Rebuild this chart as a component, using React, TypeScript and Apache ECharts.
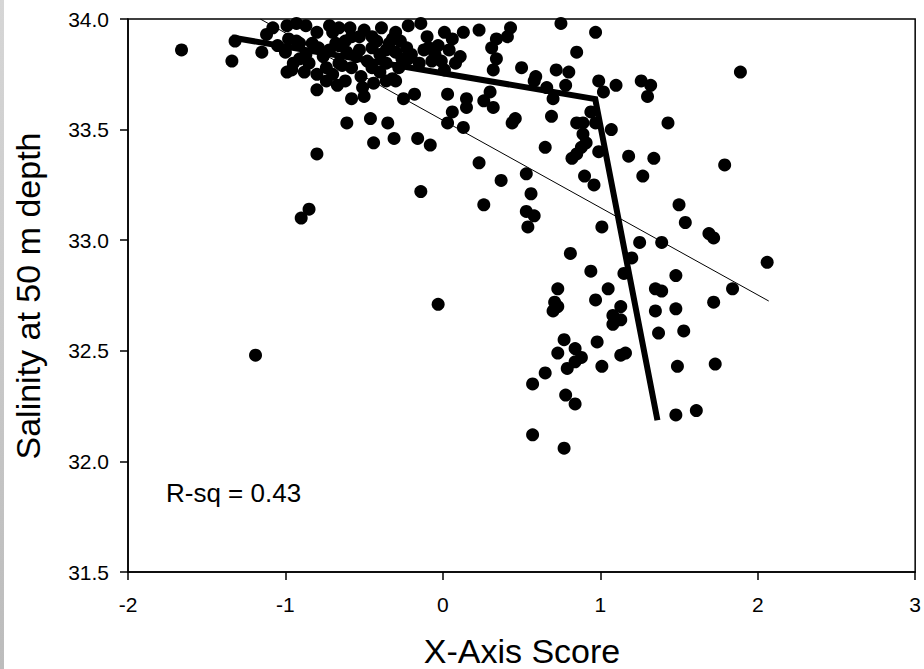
import React, { useEffect, useRef } from "react";
import * as echarts from "echarts";

// Scatter points: X-Axis Score and Salinity at 50 m depth
const pointX: number[] = [
  -1.66, -1.34, -1.32, -1.15, -1.12, -1.08, -0.99, -0.93, -0.87, -0.8, -0.72, -0.66, -0.59, -0.5, -0.39, -0.3, -0.22, -0.14, -0.1, 0.01,
  0.06, 0.13, -0.03, 0.11, -0.99, -0.96, -0.8, -0.8, -0.7, -0.67, -0.58, -0.51, -0.5, -0.44, -0.36, -0.32, -0.25, -0.18, 0.03, 0.06,
  0.03, 0.13, -0.61, -0.46, -0.35, -0.44, -0.31, -0.16, -0.08, -0.8, -0.14, -0.85, -0.9, -1.19, -0.03,
  -0.91, -0.87, -0.79, -0.68, -0.61, -0.53, -0.45, -0.36, -0.3, -0.23, -0.22, -0.15, -0.07, -0.45, -0.36, -0.28, -0.58, -0.66, -0.74, -0.85,
  -0.53, -0.45, -0.32, -0.83, -0.7, -0.58, -0.98, -0.93, -0.91, -0.66, -0.64, -0.74, -0.26, -0.09, -0.3,
  -1.05, -1.0, -0.95, -0.88, -0.76, -0.72, -0.62, -0.55, -0.48, -0.4, -0.42, -0.34, -0.27, -0.2, -0.12, -0.05, 0.04, -0.4, -0.52, -0.62, 0.08,
  0.23, 0.43, 0.41, 0.34, 0.31, 0.34, 0.32, -0.01, 0.01, 0.5, 0.59, 0.58, 0.72, 0.8, 0.78, 0.75, 0.97, 0.85, 0.66, 0.7,
  0.99, 1.02, 1.1, 1.26, 1.32, 1.3, 0.15, 0.15, 0.26, 0.3, 0.32, 0.44, 0.46, 0.69, 0.85, 0.89, 0.94, 0.97, 1.07, 0.89,
  0.91, 0.88, 0.85, 0.82, 0.65, 0.99, 1.18, 0.23, 1.89, 1.43, 1.34, 1.27, 1.79, 0.9, 0.96, 0.53, 0.37, 0.56, 0.26, 0.53,
  0.58, 0.54, 1.5, 1.54, 1.69, 1.72, 1.01, 1.25, 1.39, 1.2, 2.06, 0.81, 0.94, 1.15, 1.48, 1.84, 1.72, 0.73, 0.71, 0.73,
  0.7, 1.05, 0.97, 1.13, 1.08, 1.13, 1.08, 1.35, 1.39, 1.35, 1.48, 1.37, 1.53, 0.77, 0.98, 0.84, 0.88, 0.84, 0.73, 0.79,
  1.01, 1.13, 1.16, 1.49, 1.73, 0.65, 0.57, 0.78, 0.84, 1.48, 1.61, 0.57, 0.77,
];
const pointY: number[] = [
  33.86, 33.81, 33.9, 33.85, 33.93, 33.96, 33.97, 33.98, 33.97, 33.94, 33.97, 33.96, 33.96, 33.95, 33.96, 33.94, 33.97, 33.98, 33.92, 33.94,
  33.91, 33.94, 33.88, 33.83, 33.76, 33.77, 33.68, 33.75, 33.75, 33.7, 33.64, 33.69, 33.65, 33.71, 33.72, 33.73, 33.64, 33.66, 33.66, 33.58,
  33.53, 33.51, 33.53, 33.55, 33.53, 33.44, 33.46, 33.46, 33.43, 33.39, 33.22, 33.14, 33.1, 32.48, 32.71,
  33.89, 33.84, 33.87, 33.89, 33.85, 33.86, 33.87, 33.86, 33.85, 33.87, 33.82, 33.8, 33.81, 33.78, 33.8, 33.78, 33.78, 33.8, 33.78, 33.8,
  33.92, 33.92, 33.91, 33.89, 33.94, 33.92, 33.91, 33.9, 33.82, 33.88, 33.79, 33.72, 33.82, 33.87, 33.72,
  33.88, 33.85, 33.8, 33.76, 33.83, 33.86, 33.9, 33.83, 33.81, 33.84, 33.9, 33.89, 33.9, 33.84, 33.86, 33.84, 33.86, 33.76, 33.74, 33.72, 33.8,
  33.95, 33.96, 33.92, 33.91, 33.87, 33.82, 33.77, 33.81, 33.77, 33.78, 33.74, 33.72, 33.77, 33.76, 33.7, 33.98, 33.94, 33.85, 33.69, 33.64,
  33.72, 33.67, 33.7, 33.72, 33.7, 33.65, 33.64, 33.6, 33.63, 33.67, 33.6, 33.53, 33.55, 33.56, 33.53, 33.53, 33.58, 33.53, 33.5, 33.48,
  33.44, 33.42, 33.39, 33.37, 33.42, 33.4, 33.38, 33.35, 33.76, 33.53, 33.37, 33.29, 33.34, 33.29, 33.25, 33.3, 33.27, 33.21, 33.16, 33.13,
  33.11, 33.06, 33.16, 33.08, 33.03, 33.01, 33.06, 32.99, 32.99, 32.92, 32.9, 32.94, 32.86, 32.85, 32.84, 32.78, 32.72, 32.78, 32.72, 32.7,
  32.68, 32.78, 32.73, 32.7, 32.66, 32.64, 32.62, 32.78, 32.77, 32.68, 32.69, 32.58, 32.59, 32.55, 32.54, 32.51, 32.47, 32.45, 32.49, 32.42,
  32.43, 32.48, 32.49, 32.43, 32.44, 32.4, 32.35, 32.3, 32.26, 32.21, 32.23, 32.12, 32.06,
];

// Linear regression line (thin)
const regX: number[] = [-1.16, 2.07];
const regY: number[] = [34.0, 32.725];

// Piecewise (segmented) fit (thick)
const segX: number[] = [-1.34, 0.968, 1.363];
const segY: number[] = [33.916, 33.638, 32.186];

// Axis ranges / ticks
const xMin = -2, xMax = 3, xStep = 1;
const yMin = 31.5, yMax = 34.0, yStep = 0.5;

const FONT = "Liberation Sans";

export default function App() {
  const ref = useRef<HTMLDivElement>(null);
  useEffect(() => {
    if (!ref.current) return;
    const chart = echarts.init(ref.current, undefined, { renderer: "svg" });
    const scatterData = pointX.map((x, i) => [x, pointY[i]]);
    const regData = regX.map((x, i) => [x, regY[i]]);
    const segData = segX.map((x, i) => [x, segY[i]]);
    chart.setOption({
      animation: false,
      backgroundColor: "#fff",
      grid: {
        left: 128,
        right: 7,
        top: 19,
        bottom: 97,
        show: true,
        borderColor: "#000",
        borderWidth: 1.5,
        backgroundColor: "transparent",
      },
      xAxis: {
        type: "value",
        min: xMin,
        max: xMax,
        interval: xStep,
        splitLine: { show: false },
        axisLine: { show: true, onZero: false, lineStyle: { color: "#000", width: 1.5 } },
        axisTick: { show: true, inside: false, length: 8, lineStyle: { color: "#000", width: 1.5 } },
        axisLabel: { color: "#000", fontSize: 21, fontFamily: FONT, margin: 22 },
      },
      yAxis: {
        type: "value",
        min: yMin,
        max: yMax,
        interval: yStep,
        splitLine: { show: false },
        axisLine: { show: true, onZero: false, lineStyle: { color: "#000", width: 1.5 } },
        axisTick: { show: true, inside: false, length: 8, lineStyle: { color: "#000", width: 1.5 } },
        axisLabel: {
          color: "#000",
          fontSize: 21,
          fontFamily: FONT,
          margin: 19,
          formatter: (v: number) => v.toFixed(1),
        },
      },
      series: [
        {
          type: "scatter",
          data: scatterData,
          symbol: "circle",
          symbolSize: 13,
          itemStyle: { color: "#000", opacity: 1 },
          z: 2,
        },
        {
          type: "line",
          data: regData,
          showSymbol: false,
          symbol: "none",
          lineStyle: { color: "#000", width: 1, opacity: 1 },
          z: 3,
        },
        {
          type: "line",
          data: segData,
          showSymbol: false,
          symbol: "none",
          lineStyle: { color: "#000", width: 6, join: "miter", cap: "butt", opacity: 1 },
          z: 4,
        },
      ],
      graphic: [
        {
          type: "rect",
          shape: { x: 0, y: 0, width: 4, height: 669 },
          style: {
            fill: new echarts.graphic.LinearGradient(0, 0, 0, 1, [
              { offset: 0, color: "#d6d6d6" },
              { offset: 1, color: "#bcbcbc" },
            ]),
          },
          silent: true,
        },
        {
          type: "text",
          x: 28,
          y: 296,
          rotation: Math.PI / 2,
          style: {
            text: "Salinity at 50 m depth",
            fill: "#000",
            font: `34px ${FONT}`,
            align: "center",
            verticalAlign: "middle",
          },
          silent: true,
        },
        {
          type: "text",
          x: 522,
          y: 651,
          style: {
            text: "X-Axis Score",
            fill: "#000",
            font: `34px ${FONT}`,
            align: "center",
            verticalAlign: "middle",
          },
          silent: true,
        },
        {
          type: "text",
          x: 166,
          y: 493,
          style: {
            text: "R-sq = 0.43",
            fill: "#000",
            font: `26px ${FONT}`,
            align: "left",
            verticalAlign: "middle",
          },
          silent: true,
        },
      ],
    });
    return () => chart.dispose();
  }, []);
  return (
    <div
      ref={ref}
      style={{ position: "absolute", left: 0, top: 0, width: 924, height: 669, background: "#fff" }}
    />
  );
}
